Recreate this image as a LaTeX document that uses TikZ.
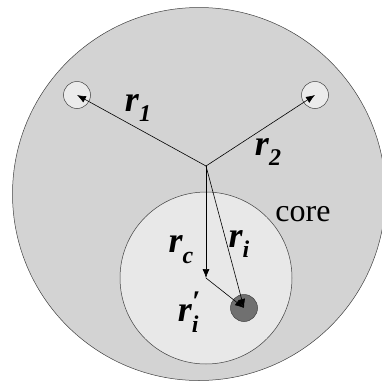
\documentclass[tikz,border=0pt]{standalone}
\usepackage{fontspec}
\setmainfont{Liberation Serif}
\usetikzlibrary{arrows.meta}
\definecolor{outerc}{HTML}{D3D3D3}
\definecolor{innerc}{HTML}{E8E8E8}
\definecolor{smallc}{HTML}{EBEBEB}
\definecolor{darkc}{HTML}{707070}
\newcommand{\subsz}{\fontsize{24}{24}\selectfont}
\newcommand{\rsub}[1]{r\raisebox{-0.3em}{\subsz #1}}
\begin{document}
\begin{tikzpicture}[x=1pt,y=-1pt,
  disk/.style={circle,draw=black!75,line width=0.5pt,inner sep=0pt},
  vec/.style={-{Latex[length=9pt,width=7pt]},line width=0.6pt},
  lab/.style={font=\fontsize{36}{36}\selectfont\bfseries\itshape, inner sep=0pt},
  txt/.style={font=\fontsize{32}{32}\selectfont, inner sep=0pt}]
\useasboundingbox (0,0) rectangle (382,383);
\node[disk,fill=outerc,minimum size=373pt] (big) at (199,194) {};
\node[disk,fill=innerc,minimum size=172pt] (core) at (206,278) {};
\node[disk,fill=smallc,minimum size=27pt] (s1) at (77,95) {};
\node[disk,fill=smallc,minimum size=27pt] (s2) at (315,95) {};
\node[disk,fill=darkc,minimum size=27pt] (p) at (244,308) {};
\coordinate (o) at (206,166);
\draw[vec] (o) -- (s1.center);
\draw[vec] (o) -- (s2.center);
\draw[vec] (o) -- (core.center);
\draw[vec] (o) -- (p.center);
\draw[vec] (core.center) -- (p.center);
\node[lab] (l1) at (138,108) {\rsub{1}};
\node[lab] (l2) at (268,152) {\rsub{2}};
\node[lab] (lc) at (181,250) {\rsub{c}};
\node[lab] (li) at (239,244) {\rsub{i}};
\node[lab] (lp) at (189,312) {r\rlap{\raisebox{-0.3em}{\subsz i}}\raisebox{0.3em}{\fontsize{30}{30}\selectfont\char"2032}};
\node[txt] (lcore) at (303,214) {core};
\end{tikzpicture}
\end{document}
